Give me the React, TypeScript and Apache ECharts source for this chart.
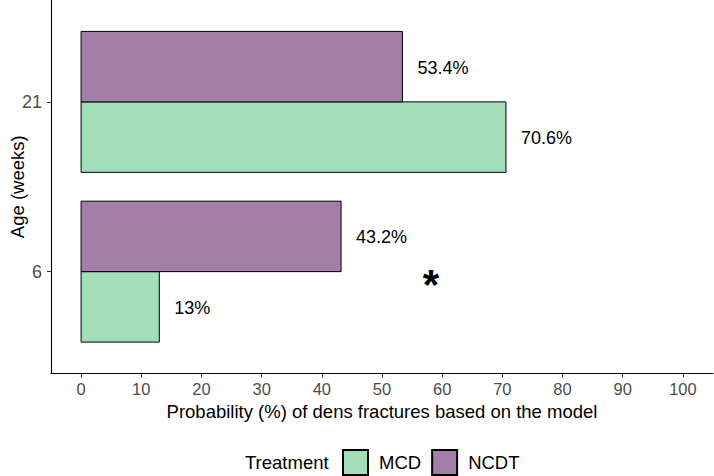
import React, { useEffect, useRef } from "react";
import * as echarts from "echarts";

const ages = ["6", "21"];
const treatments = ["MCD", "NCDT"];
const mcdValues = [13, 70.6];
const ncdtValues = [43.2, 53.4];
const mcdLabels = ["13%", "70.6%"];
const ncdtLabels = ["43.2%", "53.4%"];
const xTicks = [0, 10, 20, 30, 40, 50, 60, 70, 80, 90, 100];
const colors = { MCD: "#a2dfb9", NCDT: "#a37fa8" };

const FONT = "'Liberation Sans', Arial, sans-serif";
const HALF = 0.415;

function makeSeries(name: string, values: number[], labels: string[], sign: number, color: string) {
  return {
    type: "custom",
    name,
    itemStyle: { color, borderColor: "#000", borderWidth: 1 },
    encode: { x: 0, y: 1 },
    data: values.map((v, i) => [v, i + 1]),
    renderItem: (params: any, api: any) => {
      const v = api.value(0);
      const yc = api.value(1);
      const idx = params.dataIndex;
      const p0 = api.coord([0, yc]);
      const p1 = api.coord([v, yc + sign * HALF]);
      const x = p0[0];
      const w = p1[0] - p0[0];
      const y = Math.min(p0[1], p1[1]);
      const h = Math.abs(p1[1] - p0[1]);
      return {
        type: "group",
        children: [
          {
            type: "rect",
            shape: { x, y, width: w, height: h },
            style: { fill: color, stroke: "#000", lineWidth: 1 },
          },
          {
            type: "text",
            x: p1[0] + 15,
            y: y + h / 2 + 1,
            style: {
              text: labels[idx],
              fontFamily: FONT,
              fontSize: 18,
              fill: "#000",
              verticalAlign: "middle",
              align: "left",
            },
          },
        ],
      };
    },
  };
}

export default function App() {
  const ref = useRef<HTMLDivElement>(null);
  useEffect(() => {
    if (!ref.current) return;
    document.body.style.margin = "0";
    const chart = echarts.init(ref.current, null, { renderer: "svg" });
    chart.setOption({
      animation: false,
      backgroundColor: "#fff",
      grid: { left: 51, right: 1, top: 0, bottom: 102.5, containLabel: false, outerBoundsMode: "none" },
      xAxis: {
        type: "value",
        min: -5,
        max: 105,
        name: "Probability (%) of dens fractures based on the model",
        nameLocation: "middle",
        nameGap: 28,
        nameTextStyle: { fontFamily: FONT, fontSize: 18.5, color: "#000" },
        axisLine: { show: true, onZero: false, lineStyle: { color: "#000", width: 1.1 } },
        axisTick: { show: true, length: 4, lineStyle: { color: "#333" }, customValues: xTicks },
        axisLabel: {
          customValues: xTicks,
          fontFamily: FONT,
          fontSize: 16.5,
          color: "#4d4d4d",
          margin: 7,
        },
        splitLine: { show: false },
      },
      yAxis: {
        type: "value",
        min: 0.4,
        max: 2.6,
        name: "Age (weeks)",
        nameLocation: "middle",
        nameGap: 24,
        nameMoveOverlap: false,
        nameTextStyle: { fontFamily: FONT, fontSize: 18.5, color: "#000" },
        axisLine: { show: true, onZero: false, lineStyle: { color: "#000", width: 1.1 } },
        axisTick: { show: true, length: 4, lineStyle: { color: "#333" }, customValues: [1, 2] },
        axisLabel: {
          customValues: [1, 2],
          formatter: (v: number) => ages[Math.round(v) - 1],
          fontFamily: FONT,
          fontSize: 18,
          color: "#4d4d4d",
          margin: 9,
        },
        splitLine: { show: false },
      },
      legend: {
        data: treatments,
        left: 342,
        top: 449,
        padding: 0,
        icon: "rect",
        itemWidth: 25,
        itemHeight: 25,
        itemGap: 10,
        selectedMode: false,
        textStyle: { fontFamily: FONT, fontSize: 18.5, color: "#000", padding: [0, 0, 0, 6] },
      },
      graphic: [
        {
          type: "text",
          left: 245,
          top: 453,
          style: { text: "Treatment", fontFamily: FONT, fontSize: 18.5, fill: "#000" },
        },
        {
          type: "text",
          x: 431,
          y: 284,
          style: {
            text: "*",
            fontFamily: FONT,
            fontSize: 42,
            fontWeight: "bold",
            fill: "#000",
            align: "center",
            verticalAlign: "middle",
          },
        },
      ],
      series: [
        makeSeries("MCD", mcdValues, mcdLabels, -1, colors.MCD),
        makeSeries("NCDT", ncdtValues, ncdtLabels, 1, colors.NCDT),
      ],
    });
    return () => chart.dispose();
  }, []);
  return <div ref={ref} style={{ width: 714, height: 476, position: "absolute", left: 0, top: 0 }} />;
}
